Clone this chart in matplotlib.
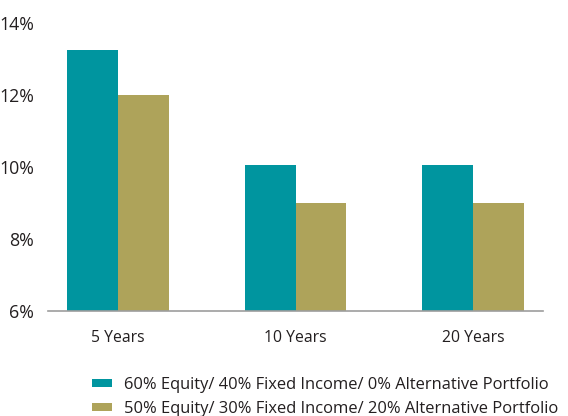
import matplotlib
matplotlib.use("Agg")
import matplotlib.pyplot as plt
import numpy as np

# data
periods = ["5 Years", "10 Years", "20 Years"]
traditional = [13.25, 10.05, 10.05]
with_alts = [12.0, 9.0, 9.0]
series_labels = [
    "60% Equity/ 40% Fixed Income/ 0% Alternative Portfolio",
    "50% Equity/ 30% Fixed Income/ 20% Alternative Portfolio",
]
y_ticks = [6, 8, 10, 12, 14]

teal = "#00959f"
olive = "#aea35a"
ink = "#231f20"

plt.rcParams["font.family"] = ["Open Sans", "DejaVu Sans"]

fig = plt.figure(figsize=(5.68, 4.16), dpi=100)
ax = fig.add_axes([48 / 568, 105 / 416, 495 / 568, 288 / 416])

x = np.arange(len(periods))
w = 0.287
b1 = ax.bar(x - w / 2, np.array(traditional) - 6, w, bottom=6, color=teal, label=series_labels[0])
b2 = ax.bar(x + w / 2, np.array(with_alts) - 6, w, bottom=6, color=olive, label=series_labels[1])

ax.set_xlim(-0.394, 2.394)
ax.set_ylim(6, 14)
ax.set_yticks(y_ticks)
ax.set_yticklabels([f"{t}%" for t in y_ticks])
ax.set_xticks(x)
ax.set_xticklabels(periods)
ax.tick_params(axis="y", length=0, pad=10, labelsize=12.8, labelcolor=ink)
ax.tick_params(axis="x", length=0, pad=14, labelsize=11.3, labelcolor=ink)

for s in ["top", "right", "left"]:
    ax.spines[s].set_visible(False)
ax.spines["bottom"].set_color("#9d9d9d")
ax.spines["bottom"].set_linewidth(1.2)

fig.legend(
    handles=[b1, b2],
    loc="upper left",
    bbox_to_anchor=(85 / 568, 1 - 370 / 416),
    frameon=False,
    fontsize=11.85,
    labelcolor=ink,
    handlelength=1.22,
    handleheight=0.37,
    handletextpad=0.73,
    labelspacing=0.5,
    borderaxespad=0,
)

fig.savefig("out.png", dpi=100)
